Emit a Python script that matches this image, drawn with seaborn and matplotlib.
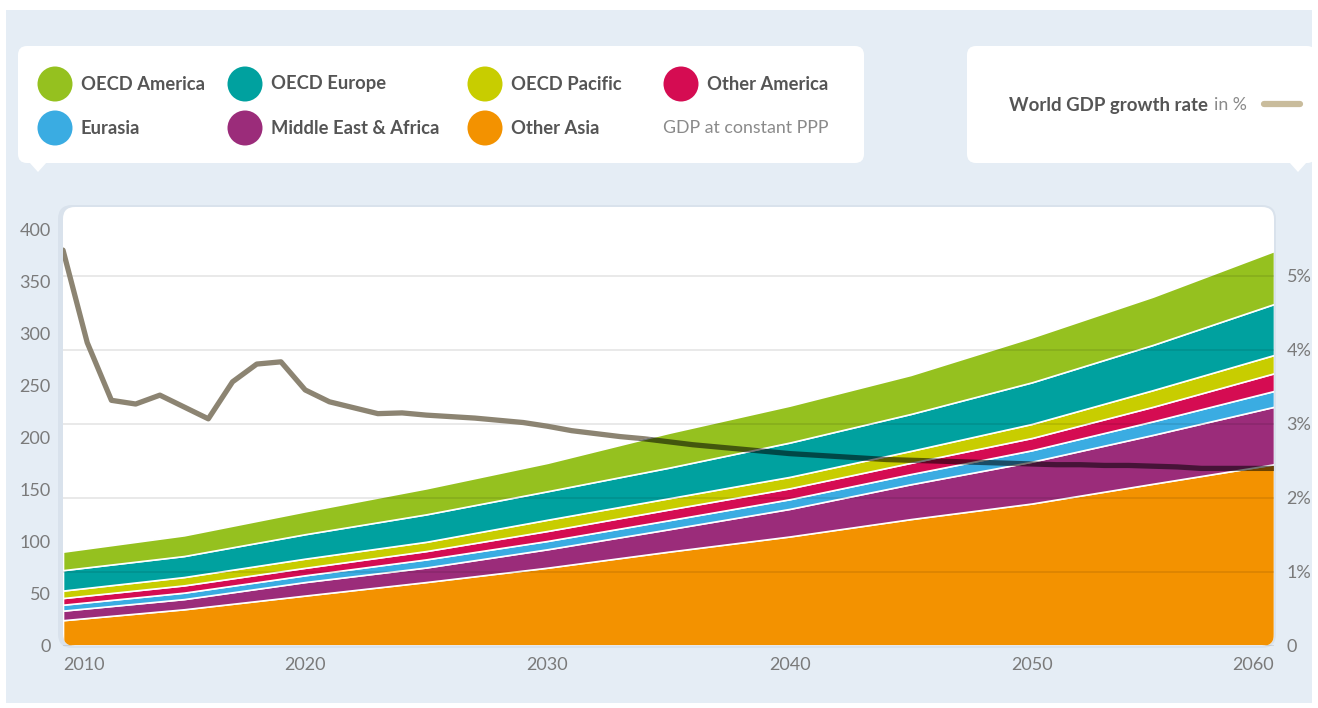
import numpy as np
import matplotlib
matplotlib.use("Agg")
import matplotlib.pyplot as plt
import seaborn as sns
from matplotlib.patches import FancyBboxPatch, Ellipse, Polygon, Rectangle
from matplotlib.transforms import IdentityTransform

sns.set_theme(style="white")
plt.rcParams['font.family'] = ['Lato', 'DejaVu Sans']

# GDP at constant PPP by region (stacked)
years = [2010, 2015, 2020, 2025, 2030, 2035, 2040, 2045, 2050, 2055, 2060]
other_asia = [24.8, 35.3, 48.5, 61.5, 75.3, 90.7, 105.3, 122.0, 137.0, 156.0, 174.7]
middle_east_africa = [9.2, 9.8, 13.0, 14.0, 17.7, 21.5, 26.5, 33.5, 40.2, 47.0, 55.3]
eurasia = [5.7, 6.2, 6.5, 7.8, 8.0, 8.7, 9.3, 9.8, 11.0, 13.0, 15.2]
other_america = [6.4, 7.0, 7.2, 8.0, 9.6, 10.3, 10.5, 10.8, 11.8, 14.0, 17.0]
oecd_pacific = [7.2, 8.0, 8.8, 8.9, 10.8, 10.8, 11.0, 11.5, 13.5, 16.0, 17.6]
oecd_europe = [19.6, 20.2, 23.5, 26.4, 27.4, 29.4, 33.0, 35.5, 40.0, 43.5, 49.0]
oecd_america = [17.8, 19.9, 22.0, 25.0, 27.3, 33.5, 35.5, 37.5, 43.3, 46.4, 51.0]

# world GDP growth rate in %
growth_years = list(range(2010, 2061))
growth = [5.35, 4.10, 3.32, 3.27, 3.39, 3.23, 3.07, 3.57, 3.81, 3.84,
          3.46, 3.30, 3.22, 3.14, 3.15, 3.12, 3.10, 3.08, 3.05, 3.02,
          2.97, 2.91, 2.87, 2.83, 2.80, 2.76, 2.72, 2.69, 2.66, 2.63,
          2.60, 2.58, 2.56, 2.54, 2.52, 2.51, 2.50, 2.49, 2.48, 2.47,
          2.46, 2.45, 2.45, 2.44, 2.44, 2.43, 2.42, 2.40, 2.40, 2.40,
          2.40]

layers = [other_asia, middle_east_africa, eurasia, other_america,
          oecd_pacific, oecd_europe, oecd_america]
layer_colors = ['#F39200', '#9B2C7A', '#3AACE2', '#D50C52',
                '#C8CD00', '#00A19F', '#95C11F']

legend_rows = [
    [('OECD America', '#95C11F'), ('OECD Europe', '#00A19F'),
     ('OECD Pacific', '#C8CD00'), ('Other America', '#D50C52')],
    [('Eurasia', '#3AACE2'), ('Middle East & Africa', '#9B2C7A'),
     ('Other Asia', '#F39200')],
]

W, H = 1318, 708
fig = plt.figure(figsize=(W / 100, H / 100), dpi=100, facecolor='white')
ident = IdentityTransform()


def pix(y):
    # top-origin pixel -> display coords
    return H - y


# background panel
fig.patches.append(Rectangle((6, pix(703)), 1306, 693, facecolor='#E5EDF5',
                             edgecolor='none', transform=ident, zorder=-5))

# legend boxes
for x0, x1, tip in [(18, 864, 38), (967, 1316, 1298)]:
    fig.patches.append(FancyBboxPatch((x0, pix(163)), x1 - x0, 117,
                                      boxstyle="round,pad=0,rounding_size=9",
                                      facecolor='white', edgecolor='none',
                                      transform=ident, zorder=-4))
    fig.patches.append(Polygon([(tip - 9, pix(162)), (tip + 9, pix(162)), (tip, pix(172))],
                               closed=True, facecolor='white', edgecolor='none',
                               transform=ident, zorder=-4))

# faint shadow at the left of the plot area
fig.patches.append(FancyBboxPatch((58, pix(648)), 1218, 443,
                                  boxstyle="round,pad=0,rounding_size=14",
                                  facecolor='#d9e2ec', edgecolor='none',
                                  transform=ident, zorder=-4.5))
# plot area
plot_bg = FancyBboxPatch((63, pix(646)), 1211, 439,
                         boxstyle="round,pad=0,rounding_size=12",
                         facecolor='white', edgecolor='none',
                         transform=ident, zorder=-4)
fig.patches.append(plot_bg)

col_x = [55, 245, 485, 681]
row_y = [84, 128]
for r, row in enumerate(legend_rows):
    for c, (name, col) in enumerate(row):
        fig.patches.append(Ellipse((col_x[c], pix(row_y[r])), 35, 35, facecolor=col,
                                   edgecolor='none', transform=ident, zorder=2))
        fig.text((col_x[c] + 26) / W, 1 - row_y[r] / H, name, fontsize=13.2,
                 fontweight='bold', color='#555555', va='center', ha='left')
fig.text(663 / W, 1 - 128 / H, 'GDP at constant PPP', fontsize=12.8,
         color='#8a8a8a', va='center', ha='left')

fig.text(1208 / W, 1 - 105 / H, 'World GDP growth rate', fontsize=13.4,
         fontweight='bold', color='#555555', va='center', ha='right')
fig.text(1247 / W, 1 - 105 / H, 'in %', fontsize=12.8,
         color='#8a8a8a', va='center', ha='right')
fig.lines.append(plt.Line2D([1264 / W, 1300 / W], [1 - 104 / H] * 2, color='#C9BC9C',
                            lw=4.5, solid_capstyle='round', transform=fig.transFigure))

# axes
ax = fig.add_axes([63 / W, 62 / H, 1211 / W, 439 / H])
ax.set_facecolor('none')
ax.set_xlim(2010, 2060)
ax.set_ylim(0, 439 / 1.04)

stacks = ax.stackplot(years, *layers, colors=layer_colors,
                      edgecolor='white', linewidth=1.2)
for poly in stacks:
    poly.set_clip_path(plot_bg)

total = np.sum(layers, axis=0)
below = ax.fill_between(years, 0, total, facecolor='none', edgecolor='none')
above = ax.fill_between(years, total, 1000, facecolor='none', edgecolor='none')

ax.set_yticks(range(0, 401, 50))
ax.set_xticks(range(2010, 2061, 10))
ax.tick_params(axis='both', length=0, labelsize=13, labelcolor='#7a7a7a')
ax.tick_params(axis='y', pad=9)
ax.tick_params(axis='x', pad=8)
xl = ax.get_xticklabels()
xl[0].set_ha('left')
xl[-1].set_ha('right')
for s in ax.spines.values():
    s.set_visible(False)

ax2 = ax.twinx()
ax2.set_ylim(0, 439 / 74)
ax2.set_yticks(range(0, 6))
ax2.set_yticklabels(['0'] + [f'{i}%' for i in range(1, 6)])
ax2.tick_params(axis='y', length=0, labelsize=13, labelcolor='#7a7a7a', pad=9)
ax2.yaxis.grid(True, color='black', alpha=0.1, lw=1.2)
for s in ax2.spines.values():
    s.set_visible(False)

sns.lineplot(x=growth_years, y=growth, ax=ax2, color='#8c8472', lw=3.8)
line_out = ax2.lines[-1]
line_out.set_clip_path(above.get_paths()[0], ax.transData)
sns.lineplot(x=growth_years, y=growth, ax=ax2, color='black', alpha=0.55, lw=3.8)
line_in = ax2.lines[-1]
line_in.set_clip_path(below.get_paths()[0], ax.transData)
ax2.set_xlim(2010, 2060)

fig.savefig('out.png', dpi=100, facecolor='white')
